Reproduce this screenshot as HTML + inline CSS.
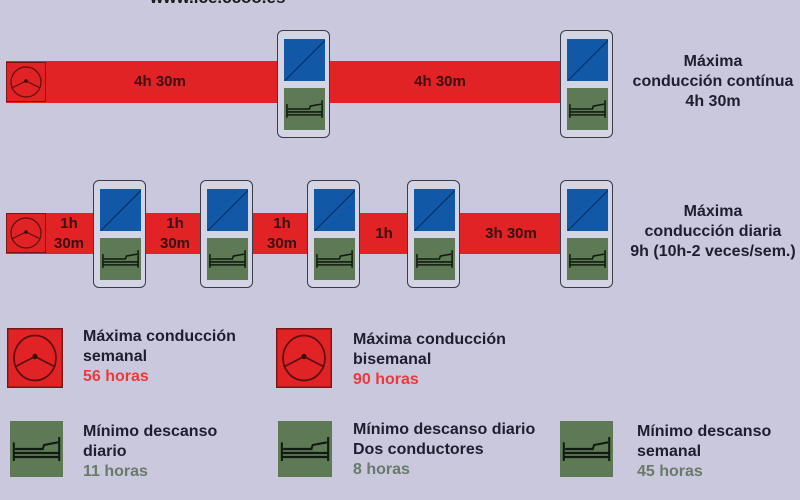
<!DOCTYPE html>
<html><head><meta charset="utf-8"><style>
body{margin:0;width:800px;height:500px;background:#c9c8dc;position:relative;overflow:hidden;font-family:"Liberation Sans Narrow","Liberation Sans",sans-serif;font-weight:bold}
.a{position:absolute}
.bar{position:absolute;background:#e12326}
.card{position:absolute;width:53px;height:108px;border:1.5px solid #3a3a48;border-radius:6px;background:#d3d5e4;box-sizing:border-box}
.bl{position:absolute;left:6px;top:8px;width:41px;height:42px;background:#1159a7;overflow:hidden}
.bl:after{content:"";position:absolute;left:-8px;top:20px;width:60px;height:1px;background:#0a2a5a;transform:rotate(-45deg)}
.gr{position:absolute;left:6px;top:57px;width:41px;height:42px;background:#5e7a55}
.lbl{position:absolute;color:#3a1010;font-size:15px;text-align:center;line-height:20px;font-family:"Liberation Sans",sans-serif}
.t{position:absolute;color:#1e1e30;font-size:16px;line-height:20px}
</style></head><body>
<svg width="0" height="0" style="position:absolute"><defs>
<symbol id="wh" viewBox="0 0 40 40"><rect x="0.5" y="0.5" width="39" height="39" fill="#e12326" stroke="#7a1515"/><circle cx="20" cy="20" r="15" fill="none" stroke="#5a1010" stroke-width="1.2"/><path d="M5.5 26 L20 19 L34.5 26 M20 19 L20 19" fill="none" stroke="#5a1010" stroke-width="1.2"/><circle cx="20" cy="19" r="1.8" fill="#3a0a0a"/></symbol>
<symbol id="bed" viewBox="0 0 42 42"><rect width="42" height="42" fill="#5e7a55"/><path d="M3 16 V30 M39 12 V30 M3 24 H39 M3 27 H39 M4 21 H26 L27 18 L38 16" fill="none" stroke="#101a10" stroke-width="1.6"/></symbol>
</defs></svg>
<div class="a" style="left:150px;top:-12px;font-size:17px;color:#1a1a1a;font-family:'Liberation Sans',sans-serif">www.ice.ccoo.es</div>

<!-- row 1 -->
<div class="bar" style="left:6px;top:61px;width:556px;height:42px"></div>
<svg class="a" style="left:6px;top:62px" width="40" height="40"><use href="#wh"/></svg>
<div class="lbl" style="left:100px;top:72px;width:120px">4h 30m</div>
<div class="lbl" style="left:380px;top:72px;width:120px">4h 30m</div>
<div class="card" style="left:277px;top:30px"><div class="bl"></div><svg class="gr" width="41" height="42"><use href="#bed"/></svg></div>
<div class="card" style="left:560px;top:30px"><div class="bl"></div><svg class="gr" width="41" height="42"><use href="#bed"/></svg></div>
<div class="t" style="left:620px;top:52px;width:186px;text-align:center">Máxima<br>conducción contínua<br>4h 30m</div>

<!-- row 2 -->
<div class="bar" style="left:6px;top:213px;width:556px;height:41px"></div>
<svg class="a" style="left:6px;top:213px" width="40" height="40"><use href="#wh"/></svg>
<div class="lbl" style="left:46px;top:214px;width:46px">1h<br>30m</div>
<div class="lbl" style="left:152px;top:214px;width:46px">1h<br>30m</div>
<div class="lbl" style="left:259px;top:214px;width:46px">1h<br>30m</div>
<div class="lbl" style="left:363px;top:224px;width:42px">1h</div>
<div class="lbl" style="left:465px;top:224px;width:92px">3h 30m</div>
<div class="card" style="left:93px;top:180px"><div class="bl"></div><svg class="gr" width="41" height="42"><use href="#bed"/></svg></div>
<div class="card" style="left:200px;top:180px"><div class="bl"></div><svg class="gr" width="41" height="42"><use href="#bed"/></svg></div>
<div class="card" style="left:307px;top:180px"><div class="bl"></div><svg class="gr" width="41" height="42"><use href="#bed"/></svg></div>
<div class="card" style="left:407px;top:180px"><div class="bl"></div><svg class="gr" width="41" height="42"><use href="#bed"/></svg></div>
<div class="card" style="left:560px;top:180px"><div class="bl"></div><svg class="gr" width="41" height="42"><use href="#bed"/></svg></div>
<div class="t" style="left:620px;top:202px;width:186px;text-align:center">Máxima<br>conducción diaria<br>9h (10h-2 veces/sem.)</div>

<!-- legend -->
<svg class="a" style="left:7px;top:328px" width="56" height="60" viewBox="0 0 40 40" preserveAspectRatio="none"><use href="#wh"/></svg>
<div class="t" style="left:83px;top:327px">Máxima conducción<br>semanal<br><span style="color:#ec3a3a">56 horas</span></div>
<svg class="a" style="left:276px;top:328px" width="56" height="60" viewBox="0 0 40 40" preserveAspectRatio="none"><use href="#wh"/></svg>
<div class="t" style="left:353px;top:330px">Máxima conducción<br>bisemanal<br><span style="color:#ec3a3a">90 horas</span></div>

<svg class="a" style="left:10px;top:421px" width="53" height="56" viewBox="0 0 42 42" preserveAspectRatio="none"><use href="#bed"/></svg>
<div class="t" style="left:83px;top:422px">Mínimo descanso<br>diario<br><span style="color:#6a7a68">11 horas</span></div>
<svg class="a" style="left:278px;top:421px" width="54" height="56" viewBox="0 0 42 42" preserveAspectRatio="none"><use href="#bed"/></svg>
<div class="t" style="left:353px;top:420px">Mínimo descanso diario<br>Dos conductores<br><span style="color:#6a7a68">8 horas</span></div>
<svg class="a" style="left:560px;top:421px" width="53" height="56" viewBox="0 0 42 42" preserveAspectRatio="none"><use href="#bed"/></svg>
<div class="t" style="left:637px;top:422px">Mínimo descanso<br>semanal<br><span style="color:#6a7a68">45 horas</span></div>
</body></html>
